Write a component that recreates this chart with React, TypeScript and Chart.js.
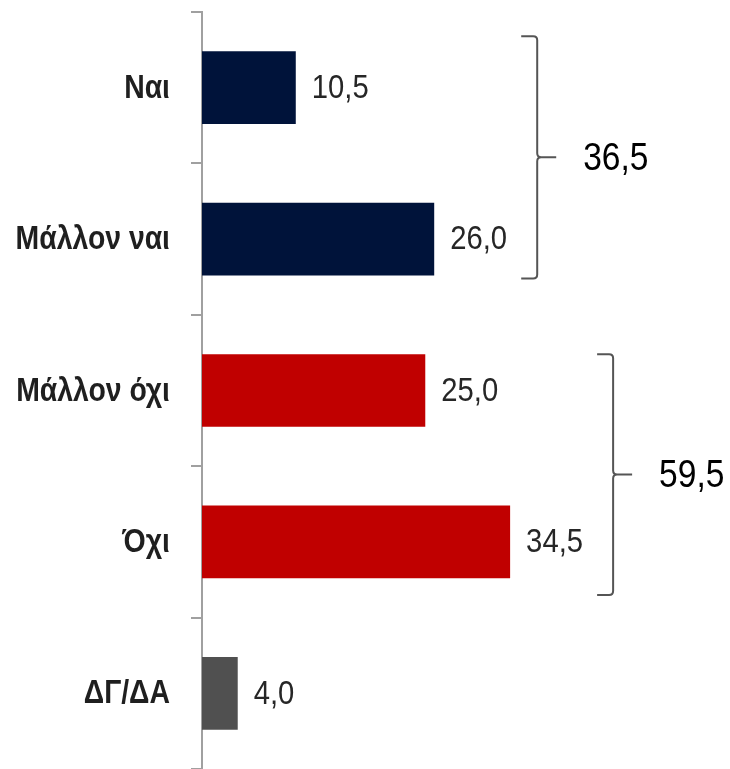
import React, { useEffect, useRef } from "react";
import { Chart, registerables } from "chart.js";

Chart.register(...registerables);

const categories = ["Ναι", "Μάλλον ναι", "Μάλλον όχι", "Όχι", "ΔΓ/ΔΑ"];
const values = [10.5, 26.0, 25.0, 34.5, 4.0];
const barColors = ["#00133A", "#00133A", "#C00000", "#C00000", "#505050"];
// groups: [first index, last index, total]
const groupFirst = [0, 2];
const groupLast = [1, 3];
const groupTotals = [36.5, 59.5];
// bracket vertical extents in category units (relative to first/last index)
const groupTopOffset = [-0.34, -0.24];
const groupBottomOffset = [0.26, 0.35];

const FONT = "'Liberation Sans', Arial, sans-serif";
const NARROW = 0.86;
const fmt = (v: number) => v.toFixed(1).replace(".", ",");

function narrowText(ctx: any, text: string, x: number, y: number, font: string, color: string, align: string) {
  ctx.save();
  ctx.translate(x, y);
  ctx.scale(NARROW, 1);
  ctx.font = font;
  ctx.fillStyle = color;
  ctx.textAlign = align;
  ctx.textBaseline = "middle";
  ctx.fillText(text, 0, 0);
  ctx.restore();
}

const labelsPlugin = {
  id: "valueLabels",
  afterDatasetsDraw(chart: any) {
    const ctx = chart.ctx;
    const meta = chart.getDatasetMeta(0);
    const yScale = chart.scales.y;
    ctx.save();
    // category labels
    categories.forEach((c, i) => {
      const y = yScale.getPixelForValue(i);
      narrowText(ctx, c, chart.chartArea.left - 32, y + 1, `bold 33px ${FONT}`, "#1f1f1f", "right");
    });
    // value labels
    meta.data.forEach((el: any, i: number) => {
      narrowText(ctx, fmt(values[i]), el.x + 16, el.y + 1, `34px ${FONT}`, "#262626", "left");
    });
    // brackets
    const band = yScale.getPixelForValue(1) - yScale.getPixelForValue(0);
    groupTotals.forEach((total, g) => {
      const f = groupFirst[g];
      const l = groupLast[g];
      let maxX = 0;
      for (let i = f; i <= l; i++) maxX = Math.max(maxX, meta.data[i].x);
      const x = maxX + 103;
      const top = yScale.getPixelForValue(f) + groupTopOffset[g] * band;
      const bottom = yScale.getPixelForValue(l) + groupBottomOffset[g] * band;
      const mid = (top + bottom) / 2;
      ctx.strokeStyle = "#555555";
      ctx.lineWidth = 2;
      ctx.beginPath();
      ctx.moveTo(x - 16, top);
      ctx.lineTo(x - 4, top);
      ctx.quadraticCurveTo(x, top, x, top + 4);
      ctx.lineTo(x, mid - 4);
      ctx.quadraticCurveTo(x, mid, x + 4, mid);
      ctx.lineTo(x + 19, mid);
      ctx.moveTo(x + 4, mid);
      ctx.quadraticCurveTo(x, mid, x, mid + 4);
      ctx.lineTo(x, bottom - 4);
      ctx.quadraticCurveTo(x, bottom, x - 4, bottom);
      ctx.lineTo(x - 16, bottom);
      ctx.stroke();
      narrowText(ctx, fmt(total), x + 46, mid + 2, `39px ${FONT}`, "#000000", "left");
    });
    ctx.restore();
  },
};

export default function App() {
  const ref = useRef<HTMLCanvasElement>(null);
  useEffect(() => {
    if (!ref.current) return;
    const chart = new Chart(ref.current, {
      type: "bar",
      data: {
        labels: categories,
        datasets: [
          {
            data: values,
            backgroundColor: barColors,
            barPercentage: 0.48,
            categoryPercentage: 1,
          },
        ],
      },
      options: {
        indexAxis: "y",
        responsive: false,
        animation: false,
        layout: { padding: { top: 12, bottom: 0, right: 10, left: 0 } },
        plugins: { legend: { display: false }, tooltip: { enabled: false } },
        scales: {
          x: { display: false, min: 0, max: 58 },
          y: {
            afterFit(scale: any) {
              scale.width = 202;
              scale.paddingTop = 0;
              scale.paddingBottom = 0;
            },
            border: { display: true, color: "#A0A0A0", width: 2 },
            grid: {
              display: true,
              drawOnChartArea: false,
              drawTicks: true,
              tickLength: 11,
              color: "#A0A0A0",
              lineWidth: 2,
              offset: true,
            },
            ticks: { display: false },
          },
        },
      },
      plugins: [labelsPlugin],
    });
    return () => chart.destroy();
  }, []);
  return (
    <div style={{ position: "absolute", left: 0, top: 0, width: 730, height: 769 }}>
      <canvas ref={ref} width={730} height={769} style={{ width: 730, height: 769 }} />
    </div>
  );
}
